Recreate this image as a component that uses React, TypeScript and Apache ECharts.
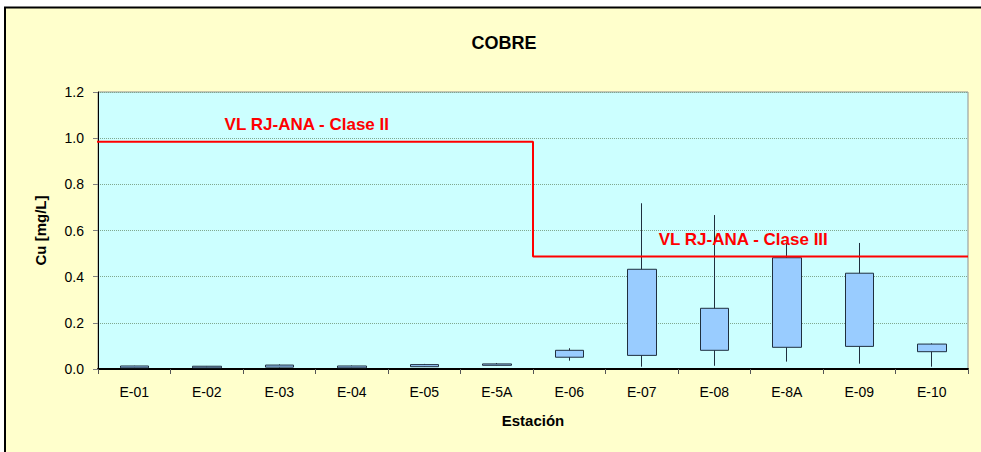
import React, { useEffect, useRef } from "react";
import * as echarts from "echarts";

const categories = ["E-01", "E-02", "E-03", "E-04", "E-05", "E-5A", "E-06", "E-07", "E-08", "E-8A", "E-09", "E-10"];
const q1Values = [0.005, 0.005, 0.008, 0.005, 0.010, 0.016, 0.051, 0.059, 0.081, 0.094, 0.098, 0.075];
const q3Values = [0.013, 0.012, 0.017, 0.013, 0.019, 0.022, 0.081, 0.432, 0.263, 0.482, 0.415, 0.108];
const minValues = [0.004, 0.004, 0.006, 0.004, 0.009, 0.015, 0.036, 0.010, 0.014, 0.032, 0.023, 0.010];
const maxValues = [0.014, 0.013, 0.020, 0.015, 0.022, 0.026, 0.090, 0.718, 0.667, 0.545, 0.546, 0.111];

// limit step line (x in category units on a hidden value axis 0..12)
const limitX = [-0.11, 6, 6, 12];
const limitY = [0.985, 0.985, 0.487, 0.487];
const limitLabels = ["VL RJ-ANA - Clase II", "VL RJ-ANA - Clase III"];
const limitLabelX = [2.88, 8.9];
const limitLabelY = [1.061, 0.563];

const yTicks = [0, 0.2, 0.4, 0.6, 0.8, 1.0, 1.2];

const FONT = "'Liberation Sans', Arial, sans-serif";

export default function App() {
  const ref = useRef<HTMLDivElement>(null);
  useEffect(() => {
    if (!ref.current) return;
    const chart = echarts.init(ref.current, null, { renderer: "svg" });
    const candleData = categories.map((_, i) => [q1Values[i], q3Values[i], minValues[i], maxValues[i]]);
    const stepData = limitX.map((x, i) => [x, limitY[i]]);
    const labelData = limitLabels.map((t, i) => ({ name: t, value: [limitLabelX[i], limitLabelY[i]] }));
    chart.setOption({
      animation: false,
      backgroundColor: "#ffffff",
      textStyle: { fontFamily: FONT },
      graphic: [
        {
          type: "rect",
          z: -10,
          silent: true,
          shape: { x: 5, y: 7.5, width: 1000, height: 500 },
          style: { fill: "#FFFFCC", stroke: "#000000", lineWidth: 2 },
        },
      ],
      title: {
        text: "COBRE",
        left: 499,
        top: 29,
        textAlign: "center",
        textStyle: { fontFamily: FONT, fontWeight: "bold", fontSize: 18, color: "#000" },
      },
      grid: {
        left: 98,
        right: 13,
        top: 92,
        bottom: 83,
        show: true,
        backgroundColor: "#CCFFFF",
        borderColor: "#909090",
        borderWidth: 1,
      },
      xAxis: [
        {
          type: "category",
          data: categories,
          boundaryGap: true,
          axisLine: { lineStyle: { color: "#000", width: 2 } },
          axisTick: { show: true, length: 5, lineStyle: { color: "#555" } },
          axisLabel: { fontFamily: FONT, fontSize: 14, color: "#000", margin: 16 },
          name: "Estación",
          nameLocation: "middle",
          nameGap: 44,
          nameTextStyle: { fontFamily: FONT, fontWeight: "bold", fontSize: 15, color: "#000" },
        },
        {
          type: "value",
          min: 0,
          max: 12,
          show: false,
        },
      ],
      yAxis: {
        type: "value",
        min: 0,
        max: 1.2,
        interval: 0.2,
        axisLine: { show: true, lineStyle: { color: "#000", width: 1 } },
        axisTick: { show: true, length: 5, lineStyle: { color: "#808080" } },
        axisLabel: {
          fontFamily: FONT,
          fontSize: 14,
          color: "#000",
          margin: 14,
          formatter: (v: number) => (yTicks.some((t) => Math.abs(t - v) < 1e-9) ? v.toFixed(1) : ""),
        },
        splitLine: { show: true, lineStyle: { color: "#7FA88F", type: "dotted", width: 1 } },
        name: "Cu [mg/L]",
        nameLocation: "middle",
        nameGap: 50,
        nameTextStyle: { fontFamily: FONT, fontWeight: "bold", fontSize: 15, color: "#000" },
      },
      series: [
        {
          type: "candlestick",
          data: candleData,
          barWidth: 29,
          itemStyle: {
            color: "#99CCFF",
            color0: "#99CCFF",
            borderColor: "#1F2F3F",
            borderColor0: "#1F2F3F",
            borderWidth: 1,
          },
          z: 3,
        },
        {
          type: "line",
          xAxisIndex: 1,
          data: stepData,
          symbol: "none",
          clip: false,
          lineStyle: { color: "#FF0000", width: 2 },
          z: 4,
        },
        {
          type: "scatter",
          xAxisIndex: 1,
          data: labelData,
          symbolSize: 0,
          clip: false,
          itemStyle: { opacity: 1 },
          label: {
            show: true,
            position: "inside",
            formatter: (p: any) => p.name,
            fontFamily: FONT,
            fontWeight: "bold",
            fontSize: 17,
            color: "#FF0000",
            opacity: 1,
          },
          z: 5,
        },
      ],
    });
    return () => chart.dispose();
  }, []);
  return <div ref={ref} style={{ position: "fixed", left: 0, top: 0, width: 981, height: 452 }} />;
}
